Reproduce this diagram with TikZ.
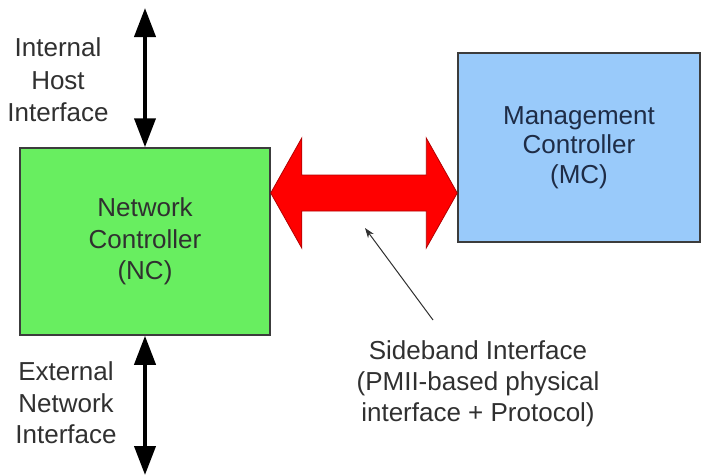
\documentclass[tikz,border=0pt]{standalone}
\usepackage{fontspec}
\setmainfont{Liberation Sans}
\usetikzlibrary{arrows.meta}
\definecolor{ncgreen}{RGB}{104,238,96}
\definecolor{mcblue}{RGB}{153,202,250}
\definecolor{txtgray}{RGB}{48,48,48}
\definecolor{mctxt}{RGB}{30,44,70}
\definecolor{bordergray}{RGB}{60,60,60}
\begin{document}
\begin{tikzpicture}[x=1pt,y=-1pt,
  box/.style={draw=bordergray,line width=1.5pt,inner sep=0pt,align=center},
  lbl/.style={align=center,text=txtgray,inner sep=0pt},
  bigarrow/.style={line width=4pt,{Triangle[width=21pt,length=29pt]}-{Triangle[width=21pt,length=29pt]}},
  pointer/.style={line width=1pt,draw=txtgray,-{Stealth[length=10pt,width=7pt]}}]
\useasboundingbox (0,0) rectangle (702,475);
\node[box,fill=ncgreen,text=txtgray,minimum width=250pt,minimum height=187pt,
  font=\fontsize{26}{31.5}\selectfont] (nc) at (145,241.5)
  {Network\\Controller\\(NC)};
\node[box,fill=mcblue,text=mctxt,minimum width=242pt,minimum height=189pt,
  font=\fontsize{26}{29.5}\selectfont] (mc) at (579,147.5)
  {Management\\Controller\\(MC)};
\node[lbl,font=\fontsize{26}{32.5}\selectfont] (ihi) at (58,80) {Internal\\Host\\Interface};
\node[lbl,font=\fontsize{26}{31.5}\selectfont] (eni) at (66,403) {External\\Network\\Interface};
\node[lbl,font=\fontsize{26}{31}\selectfont] (sbi) at (478,384) {Sideband Interface\\(PMII-based physical\\interface + Protocol)};
\coordinate (topend) at (145,8);
\coordinate (botend) at (145,475);
\draw[bigarrow] (topend) -- (nc.north);
\draw[bigarrow] (nc.south) -- (botend);
% red double arrow between NC and MC
\coordinate (lt) at (nc.east |- 0,193);
\coordinate (rt) at (mc.west |- 0,193);
\fill[red,draw=red!70!black,line width=0.8pt]
  (lt) -- ([shift={(31,-55)}]lt) -- ([shift={(31,-18)}]lt)
  -- ([shift={(-31,-18)}]rt) -- ([shift={(-31,-55)}]rt) -- (rt)
  -- ([shift={(-31,55)}]rt) -- ([shift={(-31,18)}]rt)
  -- ([shift={(31,18)}]lt) -- ([shift={(31,55)}]lt) -- cycle;
\coordinate (pstart) at (433,320);
\coordinate (ptip) at (365,228);
\draw[pointer] (pstart) -- (ptip);
\end{tikzpicture}
\end{document}
